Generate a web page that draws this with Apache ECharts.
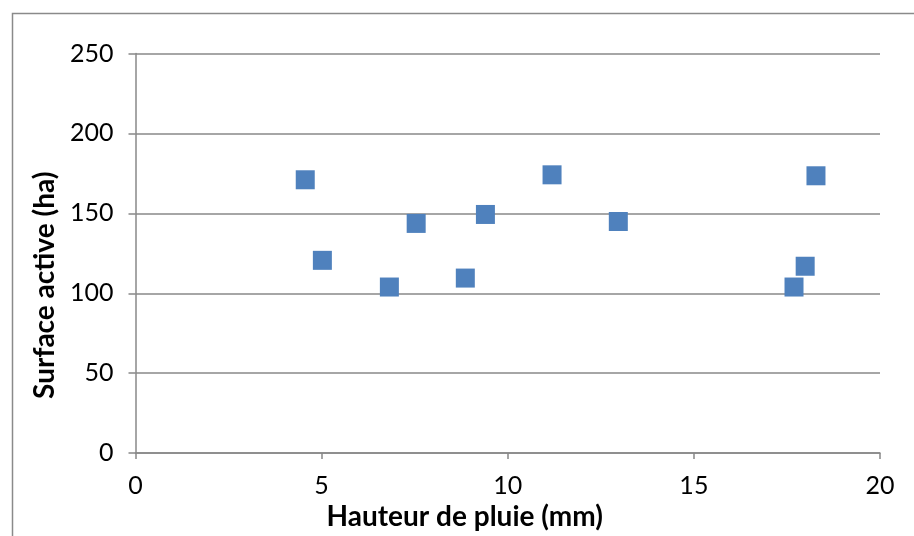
<!DOCTYPE html>
<html>
<head>
<meta charset="utf-8">
<script src="https://cdn.jsdelivr.net/npm/echarts@6/dist/echarts.min.js"></script>
<style>
html,body{margin:0;padding:0;background:#fff;}
#chart{width:914px;height:536px;}
</style>
</head>
<body>
<div id="chart"></div>
<script>
var rainfall = [4.56, 5.02, 6.82, 7.54, 8.86, 9.40, 11.19, 12.97, 17.69, 17.99, 18.28];
var activeSurface = [171.0, 120.6, 103.9, 143.7, 109.5, 149.3, 174.1, 144.9, 103.9, 116.9, 173.5];
var xTitle = 'Hauteur de pluie (mm)';
var yTitle = 'Surface active (ha)';

var points = rainfall.map(function (x, i) { return [x, activeSurface[i]]; });
var font = 'Lato, "Open Sans", sans-serif';
var chart = echarts.init(document.getElementById('chart'), null, {renderer: 'canvas'});
chart.setOption({
  animation: false,
  backgroundColor: '#fff',
  grid: {left: 135.5, top: 53.5, right: 34, bottom: 80.5, containLabel: false},
  graphic: [{
    type: 'rect', silent: true,
    shape: {x: 12.5, y: 13.5, width: 1200, height: 1200},
    style: {fill: 'none', stroke: '#8a8a8a', lineWidth: 1.5}
  }],
  xAxis: {
    type: 'value', min: 0, max: 20, interval: 5,
    name: xTitle, nameLocation: 'middle', nameGap: 40,
    nameTextStyle: {fontFamily: font, fontWeight: 'bold', fontSize: 28, color: '#000', padding: [0, 86, 0, 0]},
    axisLine: {show: true, lineStyle: {color: '#888', width: 1.5}},
    axisTick: {show: true, length: 6, lineStyle: {color: '#888', width: 1.5}},
    axisLabel: {fontFamily: font, fontSize: 25, color: '#000', margin: 20},
    splitLine: {show: false}
  },
  yAxis: {
    type: 'value', min: 0, max: 250, interval: 50,
    name: yTitle, nameLocation: 'middle', nameGap: 76,
    nameTextStyle: {fontFamily: font, fontWeight: 'bold', fontSize: 28, color: '#000', padding: [0, 64, 0, 0]},
    axisLine: {show: true, lineStyle: {color: '#888', width: 1.5}},
    axisTick: {show: true, length: 7, lineStyle: {color: '#888', width: 1.5}},
    axisLabel: {fontFamily: font, fontSize: 25, color: '#000', margin: 22},
    splitLine: {show: true, lineStyle: {color: '#888', width: 1.5}}
  },
  series: [{
    type: 'scatter',
    data: points,
    symbol: 'rect',
    symbolSize: 19,
    itemStyle: {color: '#4F81BD', opacity: 1}
  }]
});
</script>
</body>
</html>
